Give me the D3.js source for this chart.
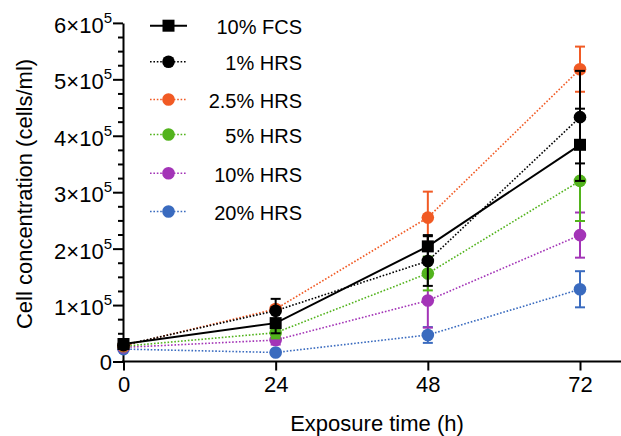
<!DOCTYPE html>
<html lang="en">
<head>
<meta charset="utf-8">
<title>Cell concentration</title>
<script src="https://d3js.org/d3.v7.min.js"></script>
<style>
  body { margin: 0; background: #fff; }
  text { font-family: "Liberation Sans", Arial, sans-serif; fill: #000; }
</style>
</head>
<body>
<script>
// data
var times = [0, 24, 48, 72];
var names = ["10% FCS", "1% HRS", "2.5% HRS", "5% HRS", "10% HRS", "20% HRS"];
var fcs10 = [31000, 68000, 204000, 384000];
var fcs10Err = [5000, 18000, 20000, 64000];
var hrs1 = [29000, 90000, 178000, 433000];
var hrs1Err = [4000, 21000, 44000, 82000];
var hrs25 = [28000, 93000, 255000, 518000];
var hrs25Err = [3000, 5000, 46000, 40000];
var hrs5 = [27000, 51000, 156000, 320000];
var hrs5Err = [3000, 10000, 30000, 71000];
var hrs10 = [25000, 38000, 108000, 224000];
var hrs10Err = [3000, 8000, 48000, 40000];
var hrs20 = [22000, 16000, 47000, 128000];
var hrs20Err = [3000, 3000, 14000, 32000];
var yMajor = [0, 1, 2, 3, 4, 5, 6];

var colors = ["#000000", "#000000", "#f15a24", "#52b31c", "#a334b7", "#3a6bbf"];
var values = [fcs10, hrs1, hrs25, hrs5, hrs10, hrs20];
var errs = [fcs10Err, hrs1Err, hrs25Err, hrs5Err, hrs10Err, hrs20Err];

var series = names.map(function(n, i) {
  return {
    name: n, color: colors[i], square: i === 0, dotted: i !== 0,
    points: times.map(function(t, j) { return { t: t, v: values[i][j], e: errs[i][j] }; })
  };
});

var w = 621, h = 436;

var x = d3.scaleLinear().domain([0, 72]).range([123.5, 580]);
var y = d3.scaleLinear().domain([0, 600000]).range([361.5, 22.9]);

var svg = d3.select("body").append("svg")
  .attr("width", w).attr("height", h);

// Y axis (minor ticks)
var minor = d3.range(0, 600001, 25000).filter(function(d) { return d % 100000 !== 0; });
svg.append("g")
  .attr("transform", "translate(123,0)")
  .call(d3.axisLeft(y).tickValues(minor).tickSize(5).tickFormat(""))
  .call(function(g) { g.select(".domain").remove(); })
  .selectAll("line").attr("stroke", "#000").attr("stroke-width", 2);

// Y axis (major)
var yAxis = svg.append("g")
  .attr("transform", "translate(123,0)")
  .call(d3.axisLeft(y).tickValues(yMajor.map(function(d) { return d * 100000; }))
    .tickSize(10).tickSizeOuter(0).tickFormat(""));
yAxis.select(".domain").attr("stroke-width", 2);
yAxis.selectAll("line").attr("stroke-width", 2);

// Y tick labels with superscripts
yMajor.forEach(function(d) {
  var t = svg.append("text")
    .attr("x", 112)
    .attr("y", y(d * 100000) + (d === 0 ? 8.5 : 10))
    .attr("text-anchor", "end")
    .attr("font-size", 22);
  if (d === 0) {
    t.text("0");
  } else {
    t.append("tspan").text(d + "\u00d710");
    t.append("tspan").attr("dy", -10).attr("font-size", 15).text("5");
  }
});

// X axis
svg.append("line")
  .attr("x1", 122).attr("x2", 621)
  .attr("y1", y(0)).attr("y2", y(0))
  .attr("stroke", "#000").attr("stroke-width", 2);

var xAxis = svg.append("g")
  .attr("transform", "translate(0," + y(0) + ")")
  .call(d3.axisBottom(x).tickValues(times).tickSize(9).tickPadding(6));
xAxis.select(".domain").remove();
xAxis.selectAll("line").attr("stroke-width", 2);
xAxis.selectAll("text")
  .attr("font-size", 22)
  .attr("font-family", "Liberation Sans, Arial, sans-serif")
  .attr("fill", "#000");

// axis titles
svg.append("text")
  .attr("transform", "translate(32,194) rotate(-90)")
  .attr("text-anchor", "middle")
  .attr("font-size", 22)
  .text("Cell concentration (cells/ml)");

svg.append("text")
  .attr("x", 377).attr("y", 431)
  .attr("text-anchor", "middle")
  .attr("font-size", 22)
  .text("Exposure time (h)");

// lines, error bars, markers (coloured first, black on top)
var drawOrder = [5, 4, 3, 2, 1, 0];
var line = d3.line()
  .x(function(d) { return x(d.t); })
  .y(function(d) { return y(d.v); });

drawOrder.forEach(function(i) {
  var s = series[i];
  svg.append("path")
    .datum(s.points)
    .attr("d", line)
    .attr("fill", "none")
    .attr("stroke", s.color)
    .attr("stroke-width", s.dotted ? 1.6 : 2)
    .attr("stroke-dasharray", s.dotted ? "1.6,1.8" : null);
});

drawOrder.forEach(function(i) {
  var s = series[i];
  var g = svg.append("g");
  var eb = g.selectAll(".eb").data(s.points).enter().append("g");
  eb.append("line")
    .attr("x1", function(d) { return x(d.t); })
    .attr("x2", function(d) { return x(d.t); })
    .attr("y1", function(d) { return y(d.v - d.e); })
    .attr("y2", function(d) { return y(d.v + d.e); })
    .attr("stroke", s.color).attr("stroke-width", 2);
  [-1, 1].forEach(function(sign) {
    eb.append("line")
      .attr("x1", function(d) { return x(d.t) - 5; })
      .attr("x2", function(d) { return x(d.t) + 5; })
      .attr("y1", function(d) { return y(d.v + sign * d.e); })
      .attr("y2", function(d) { return y(d.v + sign * d.e); })
      .attr("stroke", s.color).attr("stroke-width", 2);
  });
  if (s.square) {
    g.selectAll("rect").data(s.points).enter().append("rect")
      .attr("x", function(d) { return x(d.t) - 6; })
      .attr("y", function(d) { return y(d.v) - 6; })
      .attr("width", 12).attr("height", 12)
      .attr("fill", s.color);
  } else {
    g.selectAll("circle").data(s.points).enter().append("circle")
      .attr("cx", function(d) { return x(d.t); })
      .attr("cy", function(d) { return y(d.v); })
      .attr("r", 6.3)
      .attr("fill", s.color);
  }
});

// legend
var legendY = [25.7, 61.7, 99.5, 134.5, 173.3, 211.5];
series.forEach(function(s, i) {
  var g = svg.append("g").attr("transform", "translate(0," + legendY[i] + ")");
  g.append("line")
    .attr("x1", 150).attr("x2", 187).attr("y1", 0).attr("y2", 0)
    .attr("stroke", s.color)
    .attr("stroke-width", s.dotted ? 1.6 : 2)
    .attr("stroke-dasharray", s.dotted ? "1.6,1.8" : null);
  if (s.square) {
    g.append("rect").attr("x", 162.5).attr("y", -6).attr("width", 12).attr("height", 12).attr("fill", s.color);
  } else {
    g.append("circle").attr("cx", 168.5).attr("cy", 0).attr("r", 6.3).attr("fill", s.color);
  }
  g.append("text")
    .attr("x", 302).attr("y", 8.5)
    .attr("text-anchor", "end")
    .attr("font-size", 20)
    .text(s.name);
});
</script>
</body>
</html>
